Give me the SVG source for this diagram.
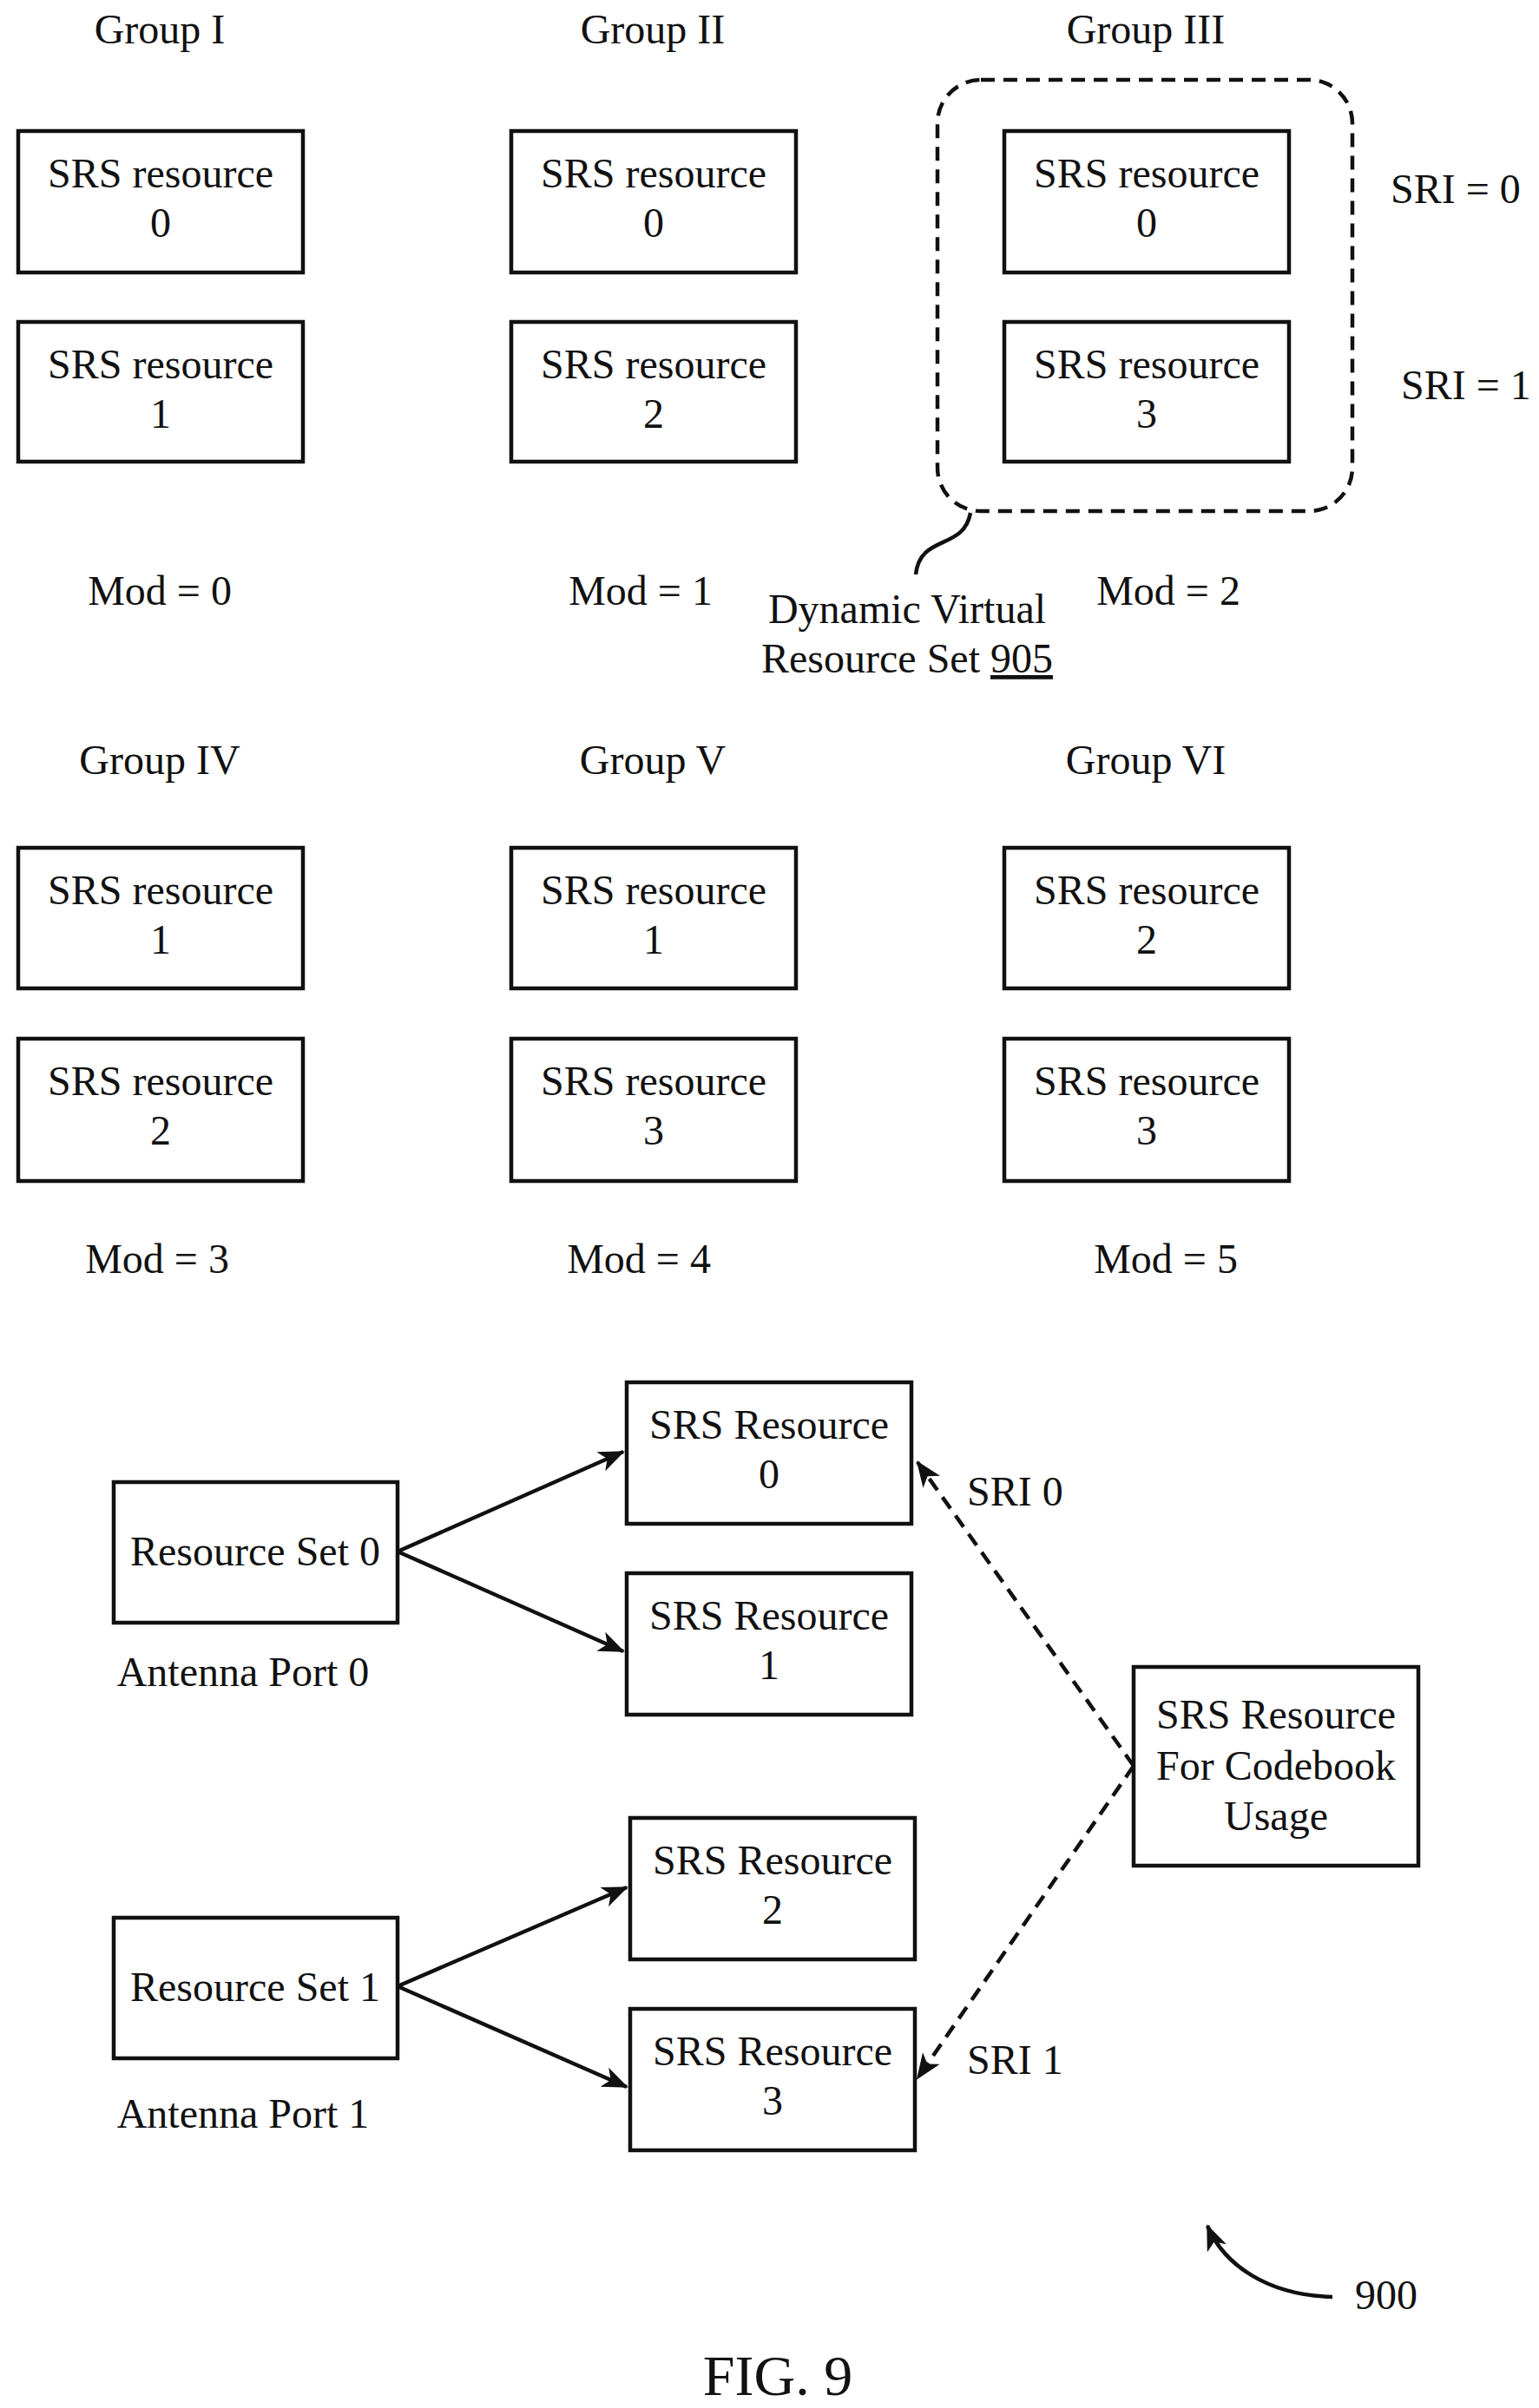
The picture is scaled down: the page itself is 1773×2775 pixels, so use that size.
<svg xmlns="http://www.w3.org/2000/svg" width="1773" height="2775" viewBox="0 0 1773 2775">
<style>
text{font-family:"Liberation Serif",serif;font-size:48px;fill:#111;text-anchor:middle}
.b{fill:#fff;stroke:#111;stroke-width:4.5}
.l{stroke:#111;stroke-width:4.5;fill:none}
.d{stroke:#111;stroke-width:4.5;fill:none;stroke-dasharray:16 10}
</style>
<defs><marker id="a" viewBox="0 0 30 24" refX="28" refY="12" markerWidth="30" markerHeight="24" orient="auto" markerUnits="userSpaceOnUse"><path d="M0,0 L30,12 L0,24 L8,12 z" fill="#111"/></marker></defs>
<g id="labels">
<text x="184" y="50">Group I</text><text x="752" y="50">Group II</text><text x="1320" y="50">Group III</text>
<text x="184" y="697">Mod = 0</text><text x="738" y="697">Mod = 1</text><text x="1346" y="697">Mod = 2</text>
<text x="184" y="892">Group IV</text><text x="752" y="892">Group V</text><text x="1320" y="892">Group VI</text>
<text x="181" y="1467">Mod = 3</text><text x="736" y="1467">Mod = 4</text><text x="1343" y="1467">Mod = 5</text>
<text x="1602" y="234" style="text-anchor:start">SRI = 0</text><text x="1614" y="460" style="text-anchor:start">SRI = 1</text>
<text x="1045" y="718">Dynamic Virtual</text><text x="1045" y="775">Resource Set <tspan text-decoration="underline">905</tspan></text>
<text x="280" y="1943">Antenna Port 0</text><text x="280" y="2452">Antenna Port 1</text>
<text x="1114" y="1735" style="text-anchor:start">SRI 0</text><text x="1114" y="2390" style="text-anchor:start">SRI 1</text>
<text x="1561" y="2661" style="text-anchor:start">900</text>
<text x="896" y="2760" style="font-size:66px">FIG. 9</text>
</g>
<g id="g1a"><rect class="b" x="21" y="151" width="328" height="163"/><text x="185" y="216">SRS resource</text><text x="185" y="273">0</text></g>
<g id="g1b"><rect class="b" x="21" y="371" width="328" height="161"/><text x="185" y="436">SRS resource</text><text x="185" y="493">1</text></g>
<g id="g2a"><rect class="b" x="589" y="151" width="328" height="163"/><text x="753" y="216">SRS resource</text><text x="753" y="273">0</text></g>
<g id="g2b"><rect class="b" x="589" y="371" width="328" height="161"/><text x="753" y="436">SRS resource</text><text x="753" y="493">2</text></g>
<g id="g3a"><rect class="b" x="1157" y="151" width="328" height="163"/><text x="1321" y="216">SRS resource</text><text x="1321" y="273">0</text></g>
<g id="g3b"><rect class="b" x="1157" y="371" width="328" height="161"/><text x="1321" y="436">SRS resource</text><text x="1321" y="493">3</text></g>
<g id="g4a"><rect class="b" x="21" y="977" width="328" height="162"/><text x="185" y="1042">SRS resource</text><text x="185" y="1099">1</text></g>
<g id="g4b"><rect class="b" x="21" y="1197" width="328" height="164"/><text x="185" y="1262">SRS resource</text><text x="185" y="1319">2</text></g>
<g id="g5a"><rect class="b" x="589" y="977" width="328" height="162"/><text x="753" y="1042">SRS resource</text><text x="753" y="1099">1</text></g>
<g id="g5b"><rect class="b" x="589" y="1197" width="328" height="164"/><text x="753" y="1262">SRS resource</text><text x="753" y="1319">3</text></g>
<g id="g6a"><rect class="b" x="1157" y="977" width="328" height="162"/><text x="1321" y="1042">SRS resource</text><text x="1321" y="1099">2</text></g>
<g id="g6b"><rect class="b" x="1157" y="1197" width="328" height="164"/><text x="1321" y="1262">SRS resource</text><text x="1321" y="1319">3</text></g>
<g id="dvrs"><rect class="d" x="1080" y="92" width="478" height="497" rx="50"/><path class="l" d="M1118 591 C1110 635 1060 615 1055 662"/></g>
<g id="r0"><rect class="b" x="722" y="1593" width="328" height="163"/><text x="886" y="1658">SRS Resource</text><text x="886" y="1715">0</text></g>
<g id="r1"><rect class="b" x="722" y="1813" width="328" height="163"/><text x="886" y="1878">SRS Resource</text><text x="886" y="1935">1</text></g>
<g id="r2"><rect class="b" x="726" y="2095" width="328" height="163"/><text x="890" y="2160">SRS Resource</text><text x="890" y="2217">2</text></g>
<g id="r3"><rect class="b" x="726" y="2315" width="328" height="163"/><text x="890" y="2380">SRS Resource</text><text x="890" y="2437">3</text></g>
<g id="rs0"><rect class="b" x="131" y="1708" width="327" height="162"/><text x="294" y="1804">Resource Set 0</text></g>
<g id="rs1"><rect class="b" x="131" y="2210" width="327" height="162"/><text x="294" y="2306">Resource Set 1</text></g>
<g id="cb"><rect class="b" x="1306" y="1921" width="328" height="229"/><text x="1470" y="1992">SRS Resource</text><text x="1470" y="2051">For Codebook</text><text x="1470" y="2109">Usage</text></g>
<g id="connectors">
<path class="l" d="M458 1788 L718 1673" marker-end="url(#a)"/>
<path class="l" d="M458 1788 L718 1903" marker-end="url(#a)"/>
<path class="l" d="M458 2289 L722 2175" marker-end="url(#a)"/>
<path class="l" d="M458 2289 L722 2405" marker-end="url(#a)"/>
<path class="d" d="M1306 2035 L1057 1685" marker-end="url(#a)"/>
<path class="d" d="M1306 2035 L1057 2395" marker-end="url(#a)"/>
<path class="l" d="M1535 2647 C1460 2645 1410 2610 1391 2565" marker-end="url(#a)"/>
</g>
</svg>
